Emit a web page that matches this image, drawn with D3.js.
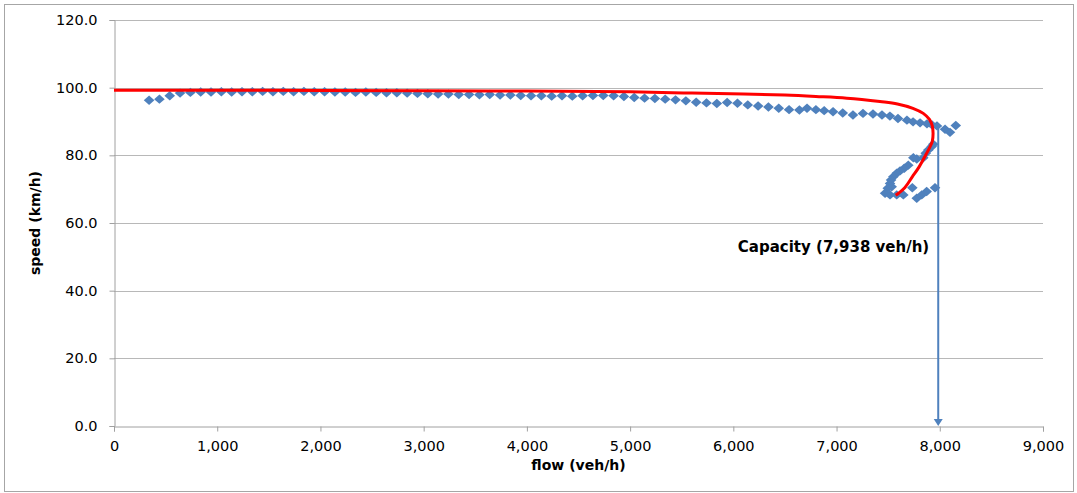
<!DOCTYPE html>
<html>
<head>
<meta charset="utf-8">
<script src="https://cdn.jsdelivr.net/npm/d3@7"></script>
<style>
  html, body { margin: 0; padding: 0; background: #fff; }
  svg { display: block; }
  text { font-family: "DejaVu Sans", Verdana, sans-serif; fill: #000; }
</style>
</head>
<body>
<svg id="chart" width="1077" height="493"></svg>
<script>
// ---- Data ----
const obsFlow = [340,440,540,640,740,840,940,1040,1140,1240,1340,1440,1540,1640,1740,1840,1940,2040,2140,2240,
  2340,2440,2540,2640,2740,2840,2940,3040,3140,3240,3340,3440,3540,3640,3740,3840,3940,4040,4140,4240,
  4340,4440,4540,4640,4740,4840,4940,5040,5140,5240,5340,5440,5540,5640,5740,5840,5940,6040,6140,6240,
  6340,6440,6540,6640,6714,6800,6880,6966,7060,7159,7256,7353,7440,7517,7595,7682,7741,7809,7876,7925,
  7973,8051,8099,8155,
  7937,7922,7889,7864,7840,7777,7744,7695,7656,7615,7583,7550,7528,7518,7534,7496,7470,7518,7583,7647,
  7734,7777,7825,7873,7954];
const obsSpeed = [96.3,96.6,97.6,98.4,98.6,98.7,98.7,98.8,98.7,98.8,98.8,98.9,98.8,98.9,98.8,98.9,98.8,98.8,98.7,98.7,
  98.6,98.7,98.6,98.5,98.5,98.4,98.3,98.2,98.1,98.1,98.0,98.0,97.9,98.0,97.8,97.8,97.7,97.6,97.6,97.5,
  97.6,97.5,97.6,97.7,97.7,97.6,97.4,97.1,96.9,96.8,96.6,96.4,96.1,95.7,95.5,95.3,95.6,95.4,94.9,94.6,
  94.3,93.9,93.5,93.4,93.9,93.5,93.2,92.9,92.5,91.9,92.4,92.2,91.9,91.6,90.9,90.4,89.9,89.6,89.3,89.0,
  88.7,87.7,86.8,88.8,
  83.3,82.6,81.6,80.6,79.3,78.9,79.3,77.1,76.2,75.4,74.7,73.7,72.7,71.7,70.7,70.3,68.8,68.3,68.3,68.3,
  70.4,67.3,68.3,69.3,70.4];

const modelFlow  = [0,1500,3000,4000,5000,5600,6100,6500,6800,7100,7420,7590,7740,7840,7900,7928,7935,7928,7905,7873,7800,7735,7663,7600,7573];
const modelSpeed = [99.2,99.2,99.1,99.0,98.8,98.4,98.1,97.8,97.4,96.9,95.9,95.2,93.9,92.4,90.6,88.6,86.5,84.2,82.5,80.6,76.6,73.7,70.5,68.8,68.2];

const capacityFlow = [7985, 7985];
const capacitySpeed = [88.7, 0];
const capacityLabel = "Capacity (7,938 veh/h)";
const capacityLabelSpeed = 51.5;

const xTicks = [0,1000,2000,3000,4000,5000,6000,7000,8000,9000];
const yTicks = [0,20,40,60,80,100,120];
const xTitle = "flow (veh/h)";
const yTitle = "speed (km/h)";

// ---- Layout ----
const svg = d3.select("#chart");
const mLeft = 114, mRight = 1043, mTop = 20, mBottom = 426;
const x = d3.scaleLinear().domain([0, 9000]).range([mLeft, mRight]);
const y = d3.scaleLinear().domain([0, 120]).range([mBottom, mTop]);

// outer border
svg.append("rect").attr("x", 4.5).attr("y", 4.5).attr("width", 1069).attr("height", 487)
  .attr("fill", "#fff").attr("stroke", "#a6a6a6").attr("stroke-width", 1);

// gridlines
svg.append("g").selectAll("line").data(yTicks.filter(d => d > 0)).join("line")
  .attr("x1", mLeft).attr("x2", mRight)
  .attr("y1", d => Math.round(y(d)) + 0.5).attr("y2", d => Math.round(y(d)) + 0.5)
  .attr("stroke", "#b8b8b8").attr("stroke-width", 1);

// axes
const fmtY = d3.format(".1f");
const fmtX = d3.format(",");
const yAxis = svg.append("g").attr("transform", `translate(${mLeft + 0.5},0)`)
  .call(d3.axisLeft(y).tickValues(yTicks).tickFormat(fmtY).tickSize(5).tickPadding(12));
const xAxis = svg.append("g").attr("transform", `translate(0,${mBottom + 0.5})`)
  .call(d3.axisBottom(x).tickValues(xTicks).tickFormat(fmtX).tickSize(5).tickPadding(9));
[yAxis, xAxis].forEach(g => {
  g.select(".domain").attr("stroke", "#a0a0a0");
  g.selectAll(".tick line").attr("stroke", "#a0a0a0");
  g.selectAll(".tick text").attr("font-size", "14.5px").attr("fill", "#000")
    .style("font-family", "'DejaVu Sans', Verdana, sans-serif");
});

// axis titles
svg.append("text").attr("x", (mLeft + mRight) / 2).attr("y", 470)
  .attr("text-anchor", "middle").attr("font-size", "14px").attr("font-weight", "bold").text(xTitle);
svg.append("text").attr("transform", `translate(40,${(mTop + mBottom) / 2}) rotate(-90)`)
  .attr("text-anchor", "middle").attr("font-size", "14px").attr("font-weight", "bold").text(yTitle);

// observed points (diamonds)
const blue = "#4f81bd";
const hw = 5.3, hh = 4.7;
const diamond = `M0,${-hh}L${hw},0L0,${hh}L${-hw},0Z`;
svg.append("g").selectAll("path").data(obsFlow.map((f, i) => [f, obsSpeed[i]])).join("path")
  .attr("d", diamond)
  .attr("transform", d => `translate(${x(d[0])},${y(d[1])})`)
  .attr("fill", blue);

// capacity arrow
const cx = x(capacityFlow[0]);
svg.append("line").attr("x1", cx).attr("x2", cx)
  .attr("y1", y(capacitySpeed[0])).attr("y2", y(capacitySpeed[1]) - 6)
  .attr("stroke", blue).attr("stroke-width", 2);
svg.append("path")
  .attr("d", `M${cx - 4.5},${y(capacitySpeed[1]) - 7}L${cx + 4.5},${y(capacitySpeed[1]) - 7}L${cx},${y(capacitySpeed[1])}Z`)
  .attr("fill", blue);
svg.append("text").attr("x", cx - 9).attr("y", y(capacityLabelSpeed))
  .attr("text-anchor", "end").attr("font-size", "15px").attr("font-weight", "bold").text(capacityLabel);

// model curve
const line = d3.line().x(d => x(d[0])).y(d => y(d[1])).curve(d3.curveCatmullRom.alpha(0.5));
svg.append("path").datum(modelFlow.map((f, i) => [f, modelSpeed[i]]))
  .attr("d", line).attr("fill", "none").attr("stroke", "#ff0000").attr("stroke-width", 3);
</script>
</body>
</html>
